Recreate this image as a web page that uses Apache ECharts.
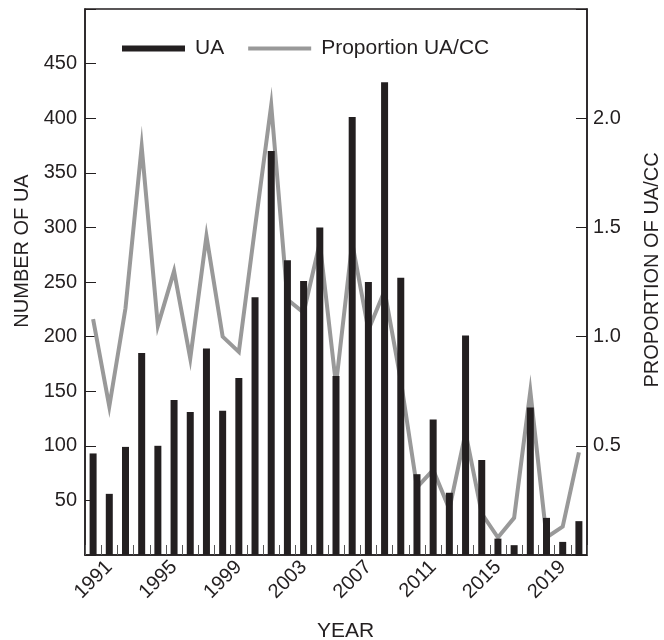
<!DOCTYPE html>
<html>
<head>
<meta charset="utf-8">
<script src="https://cdn.jsdelivr.net/npm/echarts@6/dist/echarts.min.js"></script>
<style>
  html, body { margin: 0; padding: 0; background: #fff; }
  #chart { width: 664px; height: 640px; }
</style>
</head>
<body>
<div id="chart"></div>
<script>
// Yearly counts of UA and the UA/CC proportion, 1990-2020
const years = [];
for (let y = 1990; y <= 2020; y++) years.push(String(y));

const uaCounts = [93, 56, 99, 185, 100, 142, 131, 189, 132, 162,
                  236, 370, 270, 251, 300, 164, 401, 250, 433, 254,
                  74, 124, 57, 201, 87, 15, 9, 135, 34, 12, 31];

const proportionUaCc = [1.08, 0.68, 1.13, 1.87, 1.05, 1.30, 0.90, 1.46, 1.00, 0.93,
                        1.50, 2.06, 1.17, 1.11, 1.43, 0.78, 1.43, 1.03, 1.21, 0.80,
                        0.31, 0.39, 0.21, 0.56, 0.19, 0.08, 0.17, 0.75, 0.08, 0.13, 0.47];

const leftTicks = [50, 100, 150, 200, 250, 300, 350, 400, 450];
const rightTicks = [0.5, 1.0, 1.5, 2.0];

const FONT = 'Liberation Sans';
const INK = '#231f20';
const GREY = '#999999';

const chart = echarts.init(document.getElementById('chart'), null, { renderer: 'canvas' });

chart.setOption({
  animation: false,
  backgroundColor: '#ffffff',
  textStyle: { fontFamily: FONT, color: INK },
  grid: {
    left: 85, right: 77, top: 9, bottom: 85,
    outerBoundsMode: 'none',
    show: true, borderColor: INK, borderWidth: 1.5, backgroundColor: 'transparent'
  },
  legend: {
    left: 122, top: 38,
    padding: 0,
    itemWidth: 63, itemHeight: 6, itemGap: 24,
    textStyle: { fontFamily: FONT, fontSize: 21, color: INK, padding: [0, 0, 0, 5] },
    data: [
      { name: 'UA', icon: 'rect' },
      { name: 'Proportion UA/CC', icon: 'path://M0,0L0.01,0L0.01,0.01Z M0,6L0.01,6L0.01,5.99Z M0,1L63,1L63,5L0,5Z' }
    ]
  },
  xAxis: {
    type: 'category',
    data: years,
    boundaryGap: true,
    name: 'YEAR',
    nameLocation: 'middle',
    nameGap: 66,
    nameTextStyle: { fontFamily: FONT, fontSize: 21, color: INK, padding: [0, 0, 0, 19] },
    axisLine: { lineStyle: { color: INK, width: 1.5 } },
    axisTick: { show: true, inside: true, length: 10, interval: 0, lineStyle: { color: '#555', width: 1 } },
    axisLabel: {
      rotate: 45,
      margin: 9,
      fontFamily: FONT, fontSize: 20, color: INK,
      interval: function (index) { return (index - 1) % 4 === 0; }
    }
  },
  yAxis: [
    {
      type: 'value',
      min: 0, max: 500, interval: 50,
      position: 'left',
      name: 'NUMBER OF UA',
      nameLocation: 'middle',
      nameRotate: 90,
      nameGap: 52,
      nameTextStyle: { fontFamily: FONT, fontSize: 20, color: INK, padding: [0, 0, 0, 62] },
      axisLine: { show: true, lineStyle: { color: INK, width: 1.5 } },
      axisTick: { show: true, inside: true, length: 11, lineStyle: { color: INK, width: 1 } },
      splitLine: { show: false },
      axisLabel: {
        margin: 8,
        fontFamily: FONT, fontSize: 20, color: INK,
        formatter: function (v) { return leftTicks.indexOf(v) >= 0 ? String(v) : ''; }
      }
    },
    {
      type: 'value',
      min: 0, max: 2.5, interval: 0.5,
      position: 'right',
      name: 'PROPORTION OF UA/CC',
      nameLocation: 'middle',
      nameRotate: 90,
      nameGap: 55,
      nameTextStyle: { fontFamily: FONT, fontSize: 20, color: INK, padding: [0, 0, 0, 24] },
      axisLine: { show: true, lineStyle: { color: INK, width: 1.5 } },
      axisTick: { show: true, inside: true, length: 11, lineStyle: { color: INK, width: 1 } },
      splitLine: { show: false },
      axisLabel: {
        margin: 6,
        fontFamily: FONT, fontSize: 20, color: INK,
        formatter: function (v) {
          return rightTicks.some(t => Math.abs(t - v) < 1e-9) ? v.toFixed(1) : '';
        }
      }
    }
  ],
  series: [
    {
      name: 'UA',
      type: 'bar',
      yAxisIndex: 0,
      data: uaCounts,
      barWidth: 7,
      z: 3,
      itemStyle: { color: INK }
    },
    {
      name: 'Proportion UA/CC',
      type: 'line',
      yAxisIndex: 1,
      data: proportionUaCc,
      symbol: 'none',
      z: 2,
      itemStyle: { color: GREY },
      lineStyle: { color: GREY, width: 4, join: 'miter', miterLimit: 20 }
    }
  ]
});
</script>
</body>
</html>
